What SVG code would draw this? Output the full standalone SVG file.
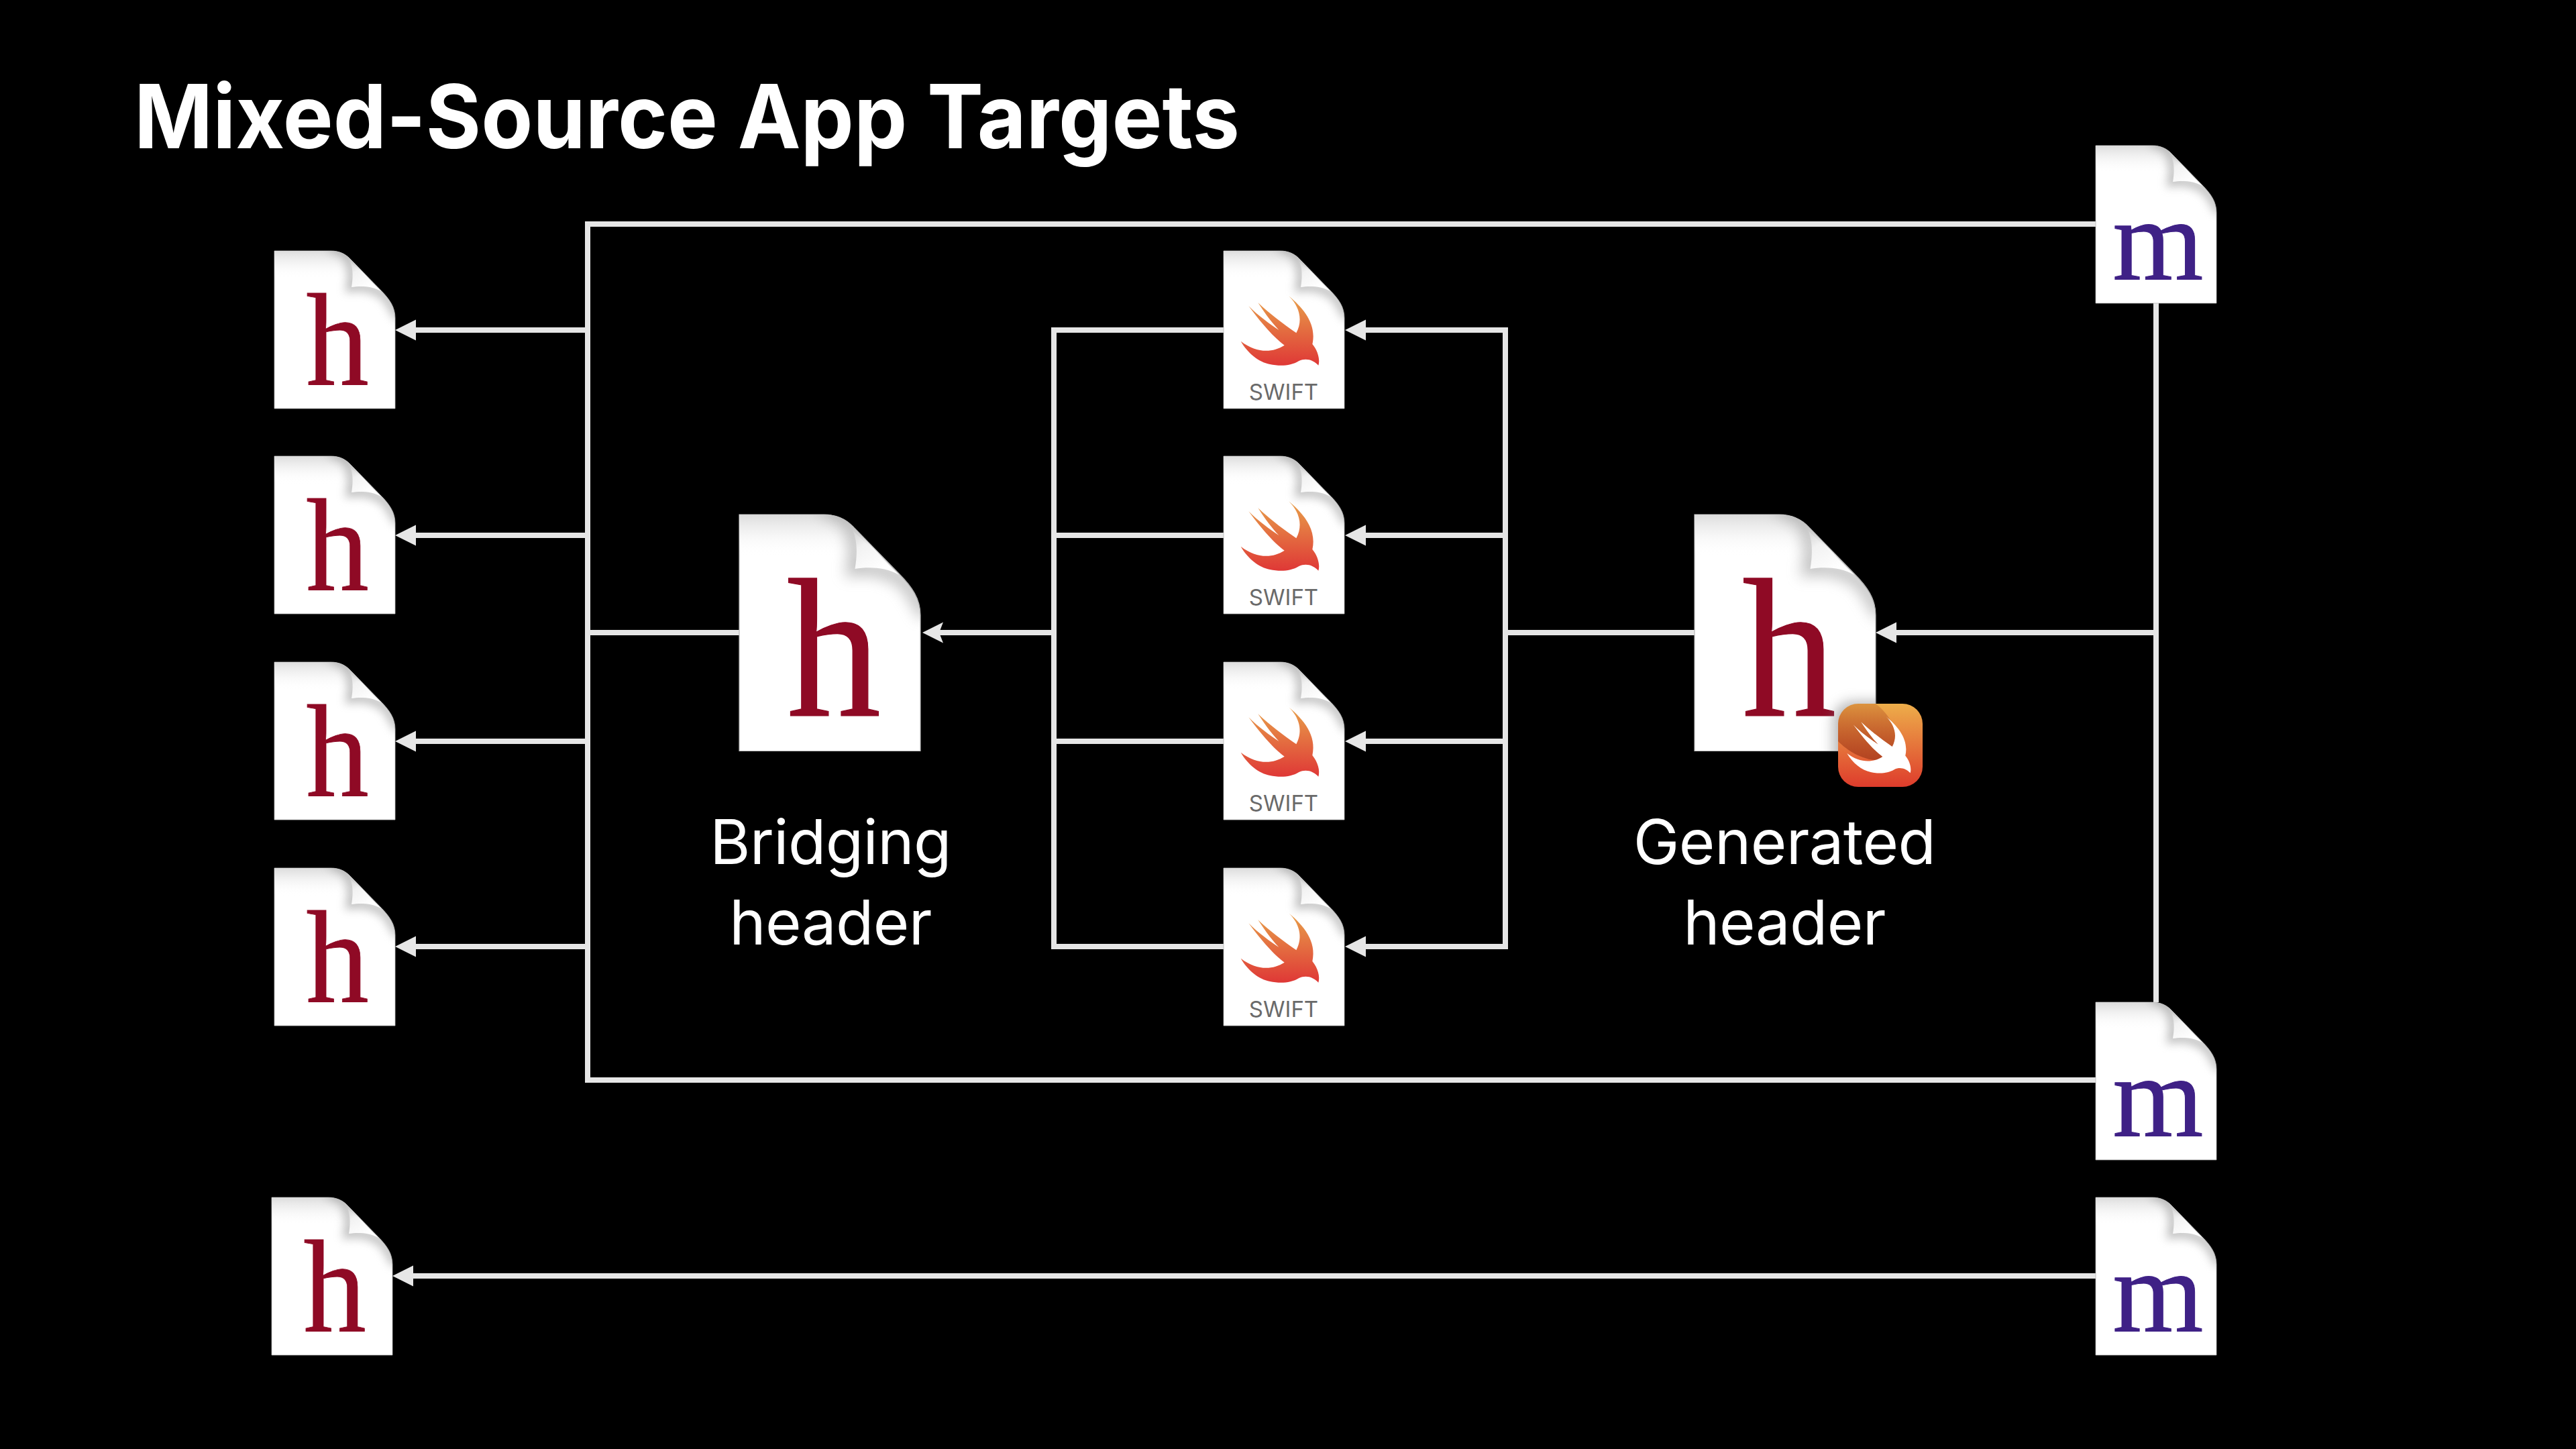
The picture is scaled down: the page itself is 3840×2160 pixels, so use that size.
<svg xmlns="http://www.w3.org/2000/svg" width="3840" height="2160" viewBox="0 0 3840 2160">
<style>
.title{font:700 132px Inter,"Liberation Sans",sans-serif;fill:#fff}
.label{font:400 92px Inter,"Liberation Sans",sans-serif;fill:#fff;text-anchor:middle;letter-spacing:-.6px}
.h{font:400 197px "Liberation Serif",serif;fill:#8f0a25;stroke:#8f0a25;stroke-width:.8;text-anchor:middle}
.m{font:400 174px "Liberation Serif",serif;fill:#3f2186;stroke:#3f2186;stroke-width:1;text-anchor:middle}
.sw{font:400 33px Inter,"Liberation Sans",sans-serif;fill:#6a6a6a;text-anchor:middle}
.ln{fill:none;stroke:#e6e6e6;stroke-width:8;stroke-linejoin:miter}
.ar{marker-end:url(#arrow)}
</style>
<defs>
<marker id="arrow" markerUnits="userSpaceOnUse" markerWidth="32" markerHeight="32" refX="0" refY="15.5" orient="auto"><path d="M31 15.5L0 0V31Z" fill="#e6e6e6"/></marker>
<marker id="stealth" markerUnits="userSpaceOnUse" markerWidth="32" markerHeight="32" refX="6" refY="15.5" orient="auto"><path d="M31 15.5L0 0L6 15.5L0 31Z" fill="#e6e6e6"/></marker>
<linearGradient id="topShade" x1="0" y1="0" x2="0" y2="1"><stop offset="0" stop-color="#dcdcdc"/><stop offset="1" stop-color="#fff" stop-opacity="0"/></linearGradient>
<linearGradient id="flap" gradientUnits="userSpaceOnUse" x1="112" y1="18" x2="135" y2="58"><stop offset="0" stop-color="#d4d4d4"/><stop offset=".35" stop-color="#f2f2f2"/><stop offset="1" stop-color="#fff"/></linearGradient>
<linearGradient id="birdFill" gradientUnits="userSpaceOnUse" x1="0" y1="305" x2="0" y2="615"><stop offset="0" stop-color="#e8a04a"/><stop offset="1" stop-color="#df3836"/></linearGradient>
<linearGradient id="badgeFill" x1="0" y1="0" x2="0" y2="1"><stop offset="0" stop-color="#edae4a"/><stop offset="1" stop-color="#de3c2c"/></linearGradient>
<linearGradient id="badgeDark" x1="0" y1="0" x2="0" y2="1"><stop offset="0" stop-color="#a8441c" stop-opacity=".25"/><stop offset="1" stop-color="#a23a1a" stop-opacity=".75"/></linearGradient>
<filter id="blur" x="-30%" y="-30%" width="160%" height="160%"><feGaussianBlur stdDeviation="7"/></filter>
<filter id="blur2" x="-30%" y="-30%" width="160%" height="160%"><feGaussianBlur stdDeviation="9"/></filter>
<clipPath id="docClip"><path d="M0 0H84C96 0 106 4 114 13L158 58C172 72 180 84 180 100V235H0Z"/></clipPath>
<clipPath id="largeDocClip"><rect x="2526" y="767" width="270" height="353"/></clipPath>
<clipPath id="badgeClip"><rect x="2740" y="1049" width="126" height="124" rx="30"/></clipPath>
<path id="bird" d="M425 305C490 360 550 430 530 520C555 550 565 590 557 615C535 590 500 580 470 595C430 620 380 618 340 610C290 600 240 560 210 507C280 560 350 560 405 525C350 485 290 410 245 350C290 395 340 430 380 457C340 415 310 370 287 335C340 385 400 430 458 470C490 410 470 350 425 305Z"/>
<g id="doc">
<path d="M0 0H84C96 0 106 4 114 13L158 58C172 72 180 84 180 100V235H0Z" fill="#fff" stroke="#b8b8b8" stroke-width=".8"/>
<g clip-path="url(#docClip)">
<rect width="180" height="42" fill="url(#topShade)"/>
<path d="M84 -6C100 -4 112 6 114 22C117 32 116 44 114 54C130 52 150 54 168 70L186 100" fill="none" stroke="#8c8c8c" stroke-width="14" opacity=".55" filter="url(#blur)"/>
<path d="M113 16L159 60C145 52 128 52 115 54C117 42 118 28 113 16Z" fill="url(#flap)"/>
</g>
</g>
</defs>
<rect width="3840" height="2160" fill="#000"/>
<text class="title" x="200" y="221" id="title" textLength="1648" lengthAdjust="spacingAndGlyphs">Mixed-Source App Targets</text>
<g id="connectors" class="ln">
<path d="M3124 334H876V1610H3124"/>
<path class="ar" d="M876 492H620"/>
<path class="ar" d="M876 798H620"/>
<path class="ar" d="M876 1105H620"/>
<path class="ar" d="M876 1411H620"/>
<path d="M1102 943H876"/>
<path d="M1824 492H1571V1411H1824"/>
<path d="M1824 798H1571"/>
<path d="M1824 1105H1571"/>
<path d="M1571 943H1400" style="marker-end:url(#stealth)"/>
<path class="ar" d="M2244 492H2036"/>
<path class="ar" d="M2244 798H2036"/>
<path class="ar" d="M2244 1105H2036"/>
<path class="ar" d="M2244 1411H2036"/>
<path d="M2036 492H2244V1411H2036"/>
<path d="M2526 943H2244"/>
<path d="M3214 452V1494"/>
<path class="ar" d="M3214 943H2827"/>
<path class="ar" d="M3124 1902H616"/>
</g>
<g id="h-1" transform="translate(409 374)"><use href="#doc"/><text class="h" transform="translate(94 200) scale(.95 1)">h</text></g>
<g id="h-2" transform="translate(409 680)"><use href="#doc"/><text class="h" transform="translate(94 200) scale(.95 1)">h</text></g>
<g id="h-3" transform="translate(409 987)"><use href="#doc"/><text class="h" transform="translate(94 200) scale(.95 1)">h</text></g>
<g id="h-4" transform="translate(409 1294)"><use href="#doc"/><text class="h" transform="translate(94 200) scale(.95 1)">h</text></g>
<g id="h-5" transform="translate(405 1785)"><use href="#doc"/><text class="h" transform="translate(94 200) scale(.95 1)">h</text></g>
<g id="swift-1" transform="translate(1824 374)"><use href="#doc"/><use href="#bird" fill="url(#birdFill)" transform="translate(-44.3 -34.3) scale(.3333)"/><text class="sw" x="89.5" y="222">SWIFT</text></g>
<g id="swift-2" transform="translate(1824 680)"><use href="#doc"/><use href="#bird" fill="url(#birdFill)" transform="translate(-44.3 -34.3) scale(.3333)"/><text class="sw" x="89.5" y="222">SWIFT</text></g>
<g id="swift-3" transform="translate(1824 987)"><use href="#doc"/><use href="#bird" fill="url(#birdFill)" transform="translate(-44.3 -34.3) scale(.3333)"/><text class="sw" x="89.5" y="222">SWIFT</text></g>
<g id="swift-4" transform="translate(1824 1294)"><use href="#doc"/><use href="#bird" fill="url(#birdFill)" transform="translate(-44.3 -34.3) scale(.3333)"/><text class="sw" x="89.5" y="222">SWIFT</text></g>
<g id="m-1" transform="translate(3124 217)"><use href="#doc"/><text class="m" x="93" y="200">m</text></g>
<g id="m-2" transform="translate(3124 1494)"><use href="#doc"/><text class="m" x="93" y="200">m</text></g>
<g id="m-3" transform="translate(3124 1785)"><use href="#doc"/><text class="m" x="93" y="200">m</text></g>
<g id="bridging-header">
<g transform="translate(1102 767) scale(1.5)"><use href="#doc"/><text class="h" transform="translate(94 200) scale(.95 1)">h</text></g>
<text class="label" x="1238" y="1288">Bridging</text>
<text class="label" x="1238" y="1408">header</text>
</g>
<g id="generated-header">
<g transform="translate(2526 767) scale(1.5)"><use href="#doc"/><text class="h" transform="translate(94 200) scale(.95 1)">h</text></g>
<g clip-path="url(#largeDocClip)"><rect x="2732" y="1045" width="134" height="134" rx="30" fill="#777" opacity=".5" filter="url(#blur2)"/></g>
<rect x="2740" y="1049" width="126" height="124" rx="30" fill="url(#badgeFill)"/>
<g clip-path="url(#badgeClip)">
<path d="M2796 1049C2830 1075 2832 1112 2820 1130C2790 1140 2760 1125 2740 1105V1049Z" fill="url(#badgeDark)"/>
<use href="#bird" fill="#fff" transform="translate(2480 740) scale(.3333) translate(649 736) scale(.815)"/>
</g>
<text class="label" x="2660" y="1288">Generated</text>
<text class="label" x="2660" y="1408">header</text>
</g>
</svg>
